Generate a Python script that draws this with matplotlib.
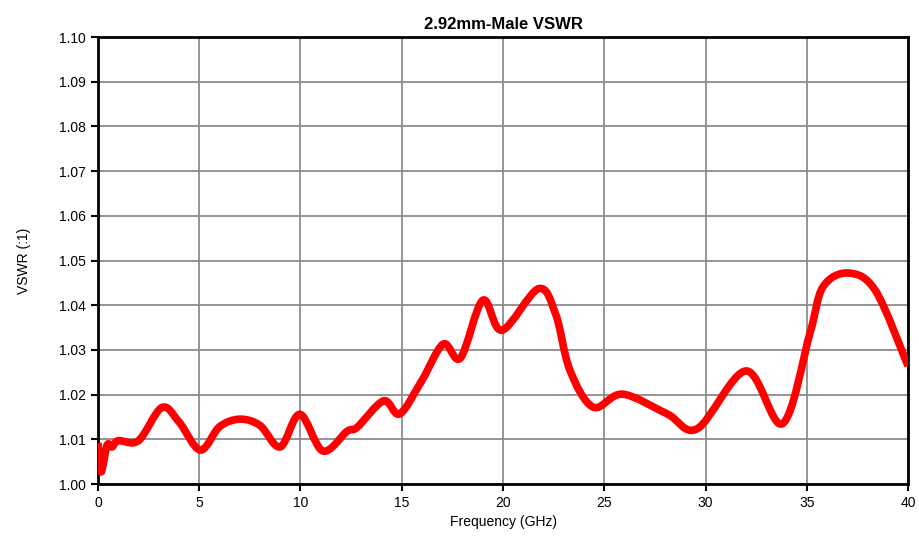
import numpy as np
import matplotlib
matplotlib.use("Agg")
import matplotlib.pyplot as plt
from matplotlib.path import Path
from matplotlib.patches import PathPatch

plt.rcParams['font.family'] = ['Liberation Sans', 'DejaVu Sans']

# values
freq = [0.0, 0.15, 0.45, 0.7, 1.0, 2.0, 3.15, 4.0, 5.05, 6.0, 7.0, 8.0, 9.0, 9.97,
        11.1, 12.3, 12.8, 14.1, 14.9, 16.0, 17.05, 17.9, 19.0, 19.95, 21.75, 22.6,
        23.3, 24.45, 25.9, 28.1, 29.6, 32.0, 33.8, 35.16, 35.8, 37.05, 38.4, 40.0]
vswr = [1.0092, 1.0027, 1.0087, 1.0083, 1.0097, 1.0097, 1.0171, 1.0139, 1.0076, 1.0128,
        1.0145, 1.0131, 1.0083, 1.0156, 1.0074, 1.0118, 1.0127, 1.0186, 1.0157, 1.0232,
        1.0313, 1.0282, 1.0411, 1.0344, 1.0437, 1.0380, 1.0255, 1.0172, 1.0201,
        1.0157, 1.0124, 1.0253, 1.0135, 1.0338, 1.0441, 1.0472, 1.0432, 1.0264]

fig = plt.figure(figsize=(9.2, 5.42), dpi=100)
ax = fig.add_axes([0.1065, 0.107, 0.8805, 0.8247])

# smoothed line like a spreadsheet "smooth line" (Catmull-Rom as cubic Bezier)
x = np.array(freq)
y = np.array(vswr)
verts = [(x[0], y[0])]
codes = [Path.MOVETO]
for i in range(len(x) - 1):
    p0 = np.array([x[max(i - 1, 0)], y[max(i - 1, 0)]])
    p1 = np.array([x[i], y[i]])
    p2 = np.array([x[i + 1], y[i + 1]])
    p3 = np.array([x[min(i + 2, len(x) - 1)], y[min(i + 2, len(x) - 1)]])
    c1 = p1 + (p2 - p0) / 6.0
    c2 = p2 - (p3 - p1) / 6.0
    verts += [tuple(c1), tuple(c2), tuple(p2)]
    codes += [Path.CURVE4, Path.CURVE4, Path.CURVE4]
ax.add_patch(PathPatch(Path(verts, codes), facecolor='none', edgecolor='#ff0000',
                       lw=5.5, joinstyle='round', capstyle='butt', zorder=3,
                       clip_on=True))

ax.set_xlim(0, 40)
ax.set_ylim(1.00, 1.10)
ax.set_xticks(np.arange(0, 41, 5))
ax.set_yticks(np.arange(1.00, 1.1001, 0.01))
ax.set_yticklabels(['%.2f' % v for v in np.arange(1.00, 1.1001, 0.01)])
ax.grid(True, color='#8c8c8c', lw=1.3)
ax.set_axisbelow(True)
for s in ax.spines.values():
    s.set_color('black')
    s.set_linewidth(2)
ax.tick_params(direction='out', length=5, width=1.5, labelsize=10, color='black')

ax.set_title('2.92mm-Male VSWR', fontsize=12, fontweight='bold', pad=6)
ax.set_xlabel('Frequency (GHz)', fontsize=10)
ax.set_ylabel('VSWR (:1)', fontsize=10, labelpad=20)

fig.savefig('out.png', dpi=100)
